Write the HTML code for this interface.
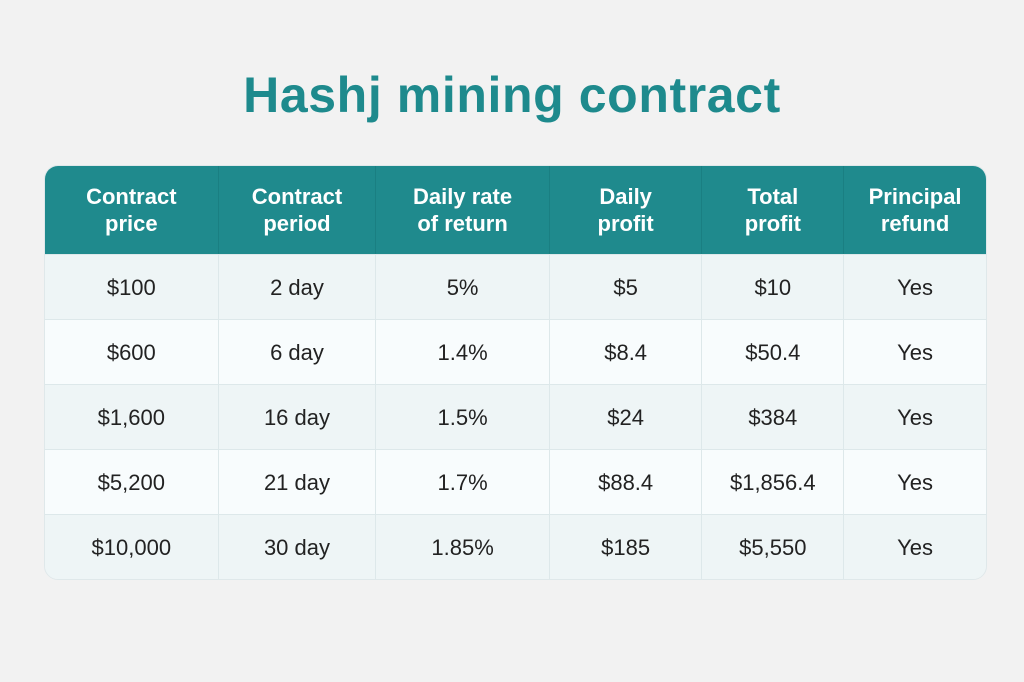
<!DOCTYPE html>
<html><head><meta charset="utf-8"><style>
body{margin:0;width:1024px;height:682px;background:#f2f2f2;font-family:"Liberation Sans","DejaVu Sans",sans-serif;position:relative;overflow:hidden}
h1{position:absolute;top:66px;left:0;width:1024px;text-align:center;margin:0;font-size:50px;font-weight:bold;color:#1e8a8d;letter-spacing:0.6px}
table{position:absolute;left:44px;top:165px;width:943px;border-collapse:separate;border-spacing:0;border-radius:14px;overflow:hidden;border:1px solid #dfe8ea}
th{background:#1f8a8d;color:#fff;font-size:22px;font-weight:bold;height:88px;line-height:27px;padding:0;border-right:1px solid #1a7f82}
td{text-align:center;font-size:22px;color:#222;height:65px;padding:2px 0 0 0;box-sizing:border-box;border-right:1px solid #dde8ea;border-top:1px solid #dde8ea}
th:last-child,td:last-child{border-right:none}
tr:nth-child(odd) td{background:#eef5f6}
tr:nth-child(even) td{background:#f8fcfd}
</style></head><body>
<h1>Hashj mining contract</h1>
<table>
<colgroup><col style="width:174px"><col style="width:158px"><col style="width:174px"><col style="width:153px"><col style="width:142px"><col style="width:142px"></colgroup>
<thead><tr><th>Contract<br>price</th><th>Contract<br>period</th><th>Daily rate<br>of return</th><th>Daily<br>profit</th><th>Total<br>profit</th><th>Principal<br>refund</th></tr></thead>
<tbody>
<tr><td>$100</td><td>2 day</td><td>5%</td><td>$5</td><td>$10</td><td>Yes</td></tr>
<tr><td>$600</td><td>6 day</td><td>1.4%</td><td>$8.4</td><td>$50.4</td><td>Yes</td></tr>
<tr><td>$1,600</td><td>16 day</td><td>1.5%</td><td>$24</td><td>$384</td><td>Yes</td></tr>
<tr><td>$5,200</td><td>21 day</td><td>1.7%</td><td>$88.4</td><td>$1,856.4</td><td>Yes</td></tr>
<tr><td>$10,000</td><td>30 day</td><td>1.85%</td><td>$185</td><td>$5,550</td><td>Yes</td></tr>
</tbody></table>
</body></html>
